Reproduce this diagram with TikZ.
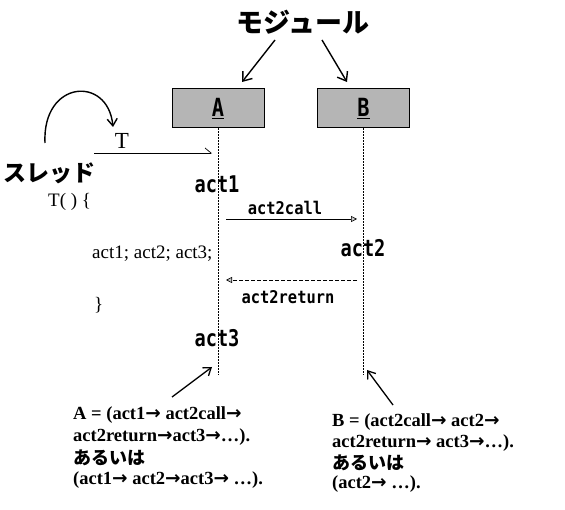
\documentclass[tikz,border=0pt]{standalone}
\usepackage{fontspec}
\setmainfont{Liberation Serif}
\newfontfamily\jp{Noto Sans CJK JP}
\newfontfamily\gm[FakeStretch=0.81]{DejaVu Sans Mono}
\newfontfamily\gmm[FakeStretch=0.88]{DejaVu Sans Mono}
\newfontfamily\djv{DejaVu Sans}
\usetikzlibrary{arrows.meta}
\newcommand{\arr}{{\djv\bfseries →}}
\begin{document}
\begin{tikzpicture}[x=1pt,y=-1pt,
  box/.style={draw=black,line width=1pt,fill=gray!58,minimum width=92pt,minimum height=39pt,inner sep=0pt},
  life/.style={line width=0.8pt,dash pattern=on 2pt off 1pt},
  bigarrow/.style={line width=1.4pt,-{Straight Barb[length=8pt,width=12pt,line width=1.4pt]}},
  msg/.style={line width=0.6pt,-{Triangle[open,fill=gray!40,length=6pt,width=6pt]}},
  ret/.style={msg,dash pattern=on 4pt off 2pt},
  actlbl/.style={font=\gm\bfseries\fontsize{23}{23}\selectfont,inner sep=0pt},
  msglbl/.style={font=\gmm\bfseries\fontsize{17.5}{17.5}\selectfont,inner sep=0pt},
  code/.style={font=\fontsize{19}{19}\selectfont,inner sep=0pt,anchor=west},
  desc/.style={font=\fontsize{18.5}{18.5}\selectfont\bfseries,inner sep=0pt,anchor=west},
  jdesc/.style={font=\jp\bfseries\fontsize{18}{18}\selectfont,inner sep=0pt,anchor=west},
]
\useasboundingbox (0,0) rectangle (565,510);
% module label
\node[font=\jp\bfseries\fontsize{27}{27}\selectfont,inner sep=0pt] (mod) at (303,22) {モジュール};
\node[box] (A) at (218,108.5) {\gm\bfseries\fontsize{25}{25}\selectfont\underline{A}};
\node[box] (B) at (363.5,108.5) {\gm\bfseries\fontsize{25}{25}\selectfont\underline{B}};
\coordinate (m1) at (275,40); \coordinate (a1) at (242,82);
\coordinate (m2) at (322,40); \coordinate (b1) at (347,82);
\draw[bigarrow] (m1) -- (a1);
\draw[bigarrow] (m2) -- (b1);
% lifelines
\coordinate (Aend) at (218,375);
\coordinate (Bend) at (363.5,375);
\draw[life] (A.south) -- (Aend);
\draw[life] (B.south) -- (Bend);
% thread
\node[font=\jp\bfseries\fontsize{23}{23}\selectfont,inner sep=0pt] (thr) at (49,173) {スレッド};
\coordinate (c0) at (45,143); \coordinate (c1) at (113,127);
\draw[line width=1.4pt,-{Straight Barb[length=7pt,width=10pt,line width=1.4pt]}] (c0) .. controls (42,80) and (108,75) .. (c1);
\node[font=\fontsize{23}{23}\selectfont,inner sep=0pt] (T) at (122,141) {T};
\coordinate (Ts) at (94,153); \coordinate (Tt) at (212,153);
\draw[line width=0.7pt,-{Straight Barb[left,length=6pt,width=10pt,line width=0.7pt]}] (Ts) -- (Tt);
\node[code] (c1l) at (48,202) {T(\ )\ \{};
\node[code] (c2l) at (92,254) {act1; act2; act3;};
\node[code] (c3l) at (94,305) {\}};
% activities
\node[actlbl] (act1) at (217,184) {act1};
\node[actlbl] (act2) at (363,248) {act2};
\node[actlbl] (act3) at (217,338) {act3};
% messages
\coordinate (cs) at (226,219); \coordinate (ct) at (357,219);
\draw[msg] (cs) -- (ct);
\node[msglbl] (callL) at (285,208) {act2call};
\coordinate (rs) at (357,280); \coordinate (rt) at (226,280);
\draw[ret] (rs) -- (rt);
\node[msglbl] (retL) at (288,297) {act2return};
% descriptions
\node[desc] (la1) at (73,415) {A = (act1\arr\ act2call\arr};
\node[desc] (la2) at (73,437) {act2return\arr act3\arr…).};
\node[jdesc] (la3) at (73,458) {あるいは};
\node[desc] (la4) at (73,480) {(act1\arr\ act2\arr act3\arr\ …).};
\node[desc] (lb1) at (332,422) {B = (act2call\arr\ act2\arr};
\node[desc] (lb2) at (332,443) {act2return\arr\ act3\arr…).};
\node[jdesc] (lb3) at (332,463) {あるいは};
\node[desc] (lb4) at (332,484) {(act2\arr\ …).};
\coordinate (pa0) at (172,397); \coordinate (pa1) at (212,367);
\coordinate (pb0) at (393,405); \coordinate (pb1) at (367,370);
\draw[line width=1.3pt,-{Straight Barb[length=7pt,width=10pt,line width=1.3pt]}] (pa0) -- (pa1);
\draw[line width=1.3pt,-{Straight Barb[length=7pt,width=10pt,line width=1.3pt]}] (pb0) -- (pb1);
\end{tikzpicture}
\end{document}
